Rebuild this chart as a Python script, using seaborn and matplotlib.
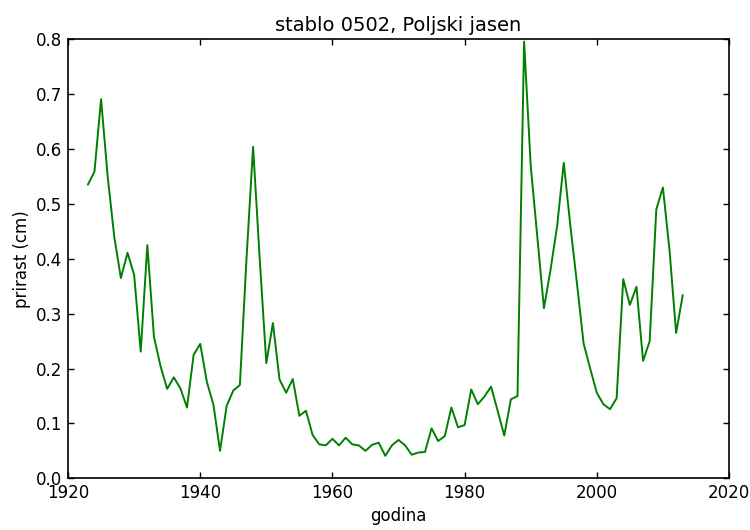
import matplotlib
matplotlib.use("Agg")
import matplotlib.pyplot as plt
import seaborn as sns
import numpy as np
import pandas as pd

# godine i prirast (cm) ocitano s grafa
godine = list(range(1923, 2014))
prirast = [
    0.535, 0.559, 0.691, 0.550, 0.440, 0.365, 0.411, 0.371, 0.231, 0.425,  # 1923-1932
    0.258, 0.204, 0.163, 0.184, 0.164, 0.129, 0.225, 0.245, 0.176, 0.134,  # 1933-1942
    0.050, 0.132, 0.160, 0.170, 0.400, 0.604, 0.400, 0.210, 0.283, 0.180,  # 1943-1952
    0.156, 0.181, 0.114, 0.123, 0.079, 0.062, 0.060, 0.072, 0.060, 0.074,  # 1953-1962
    0.062, 0.060, 0.050, 0.061, 0.065, 0.041, 0.060, 0.070, 0.060, 0.043,  # 1963-1972
    0.047, 0.048, 0.091, 0.068, 0.077, 0.129, 0.093, 0.097, 0.162, 0.135,  # 1973-1982
    0.149, 0.167, 0.123, 0.078, 0.144, 0.150, 0.796, 0.570, 0.440, 0.310,  # 1983-1992
    0.380, 0.460, 0.575, 0.460, 0.355, 0.246, 0.200, 0.156, 0.135, 0.126,  # 1993-2002
    0.146, 0.363, 0.316, 0.349, 0.214, 0.250, 0.490, 0.530, 0.416, 0.265,  # 2003-2012
    0.334,                                                                 # 2013
]

naslov = "stablo 0502, Poljski jasen"

sns.set_style("white")
plt.rcParams['font.family'] = ['DejaVu Sans']
plt.rcParams['xtick.direction'] = 'in'
plt.rcParams['ytick.direction'] = 'in'
plt.rcParams['text.color'] = 'black'
plt.rcParams['axes.labelcolor'] = 'black'
plt.rcParams['xtick.color'] = 'black'
plt.rcParams['ytick.color'] = 'black'

df = pd.DataFrame({"godina": godine, "prirast": prirast})

fig = plt.figure(figsize=(7.5, 5.3), dpi=100)
ax = fig.add_axes([0.0907, 0.0975, 0.972 - 0.0907, 0.9258 - 0.0975])

sns.lineplot(data=df, x="godina", y="prirast", color="#008000", linewidth=1.4, ax=ax)

ax.set_xlim(1920, 2020)
ax.set_ylim(0.0, 0.8)
ax.set_xticks(np.arange(1920, 2021, 20))
ax.set_yticks(np.arange(0, 0.81, 0.1))
ax.set_yticklabels([f"{v:.1f}" for v in np.arange(0, 0.81, 0.1)])
ax.tick_params(axis='both', which='major', labelsize=12, length=4, width=1,
               pad=4, top=True, right=True, bottom=True, left=True)
for s in ax.spines.values():
    s.set_color('black')
    s.set_linewidth(1.2)

ax.set_xlabel("godina", fontsize=12)
ax.set_ylabel("prirast (cm)", fontsize=12)
ax.set_title(naslov, fontsize=14)

fig.savefig("out.png", dpi=100)
